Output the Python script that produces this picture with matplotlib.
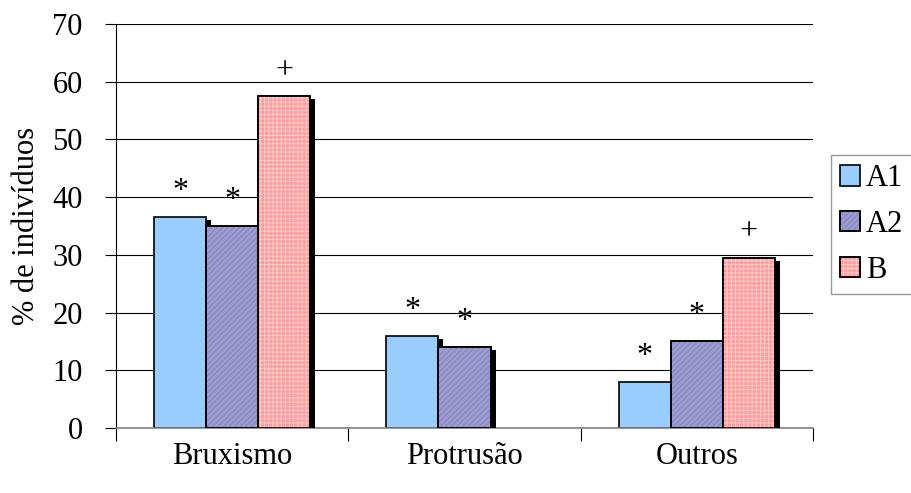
import matplotlib
matplotlib.use('Agg')
import matplotlib.pyplot as plt
import matplotlib.transforms as mtransforms
from matplotlib.patches import Patch
import numpy as np

plt.rcParams['font.family'] = ['Liberation Serif', 'DejaVu Serif']
plt.rcParams['hatch.linewidth'] = 0.6

# dados
categorias = ['Bruxismo', 'Protrusão', 'Outros']
grupos = ['A1', 'A2', 'B']
a1 = [36.5, 16, 8]
a2 = [35, 14, 15]
b = [57.5, 0, 29.5]
marcas = [['*', '*', '+'], ['*', '*', ''], ['*', '*', '+']]

cores = ['#99CCFF', '#9C9CD2', '#FF9C9C']
hachuras = [None, '//////', '++++']
cor_hachura = [None, '#8080B8', '#FFD0D0']
fs = 22

fig = plt.figure(figsize=(9.11, 4.93), dpi=100)
ax = fig.add_axes([116/911, 1-428/493, (813-116)/911, (428-24)/493])

x = np.arange(len(categorias))
larg = 0.224
series = [a1, a2, b]

# sombra preta deslocada para a direita/baixo
sombra = mtransforms.offset_copy(ax.transData, fig=fig, x=5, y=-3, units='dots')
for i, vals in enumerate(series):
    pos = x + (i - 1) * larg
    for j, v in enumerate(vals):
        if v > 0:
            ax.bar(pos[j], v, larg, color='black', linewidth=0,
                   transform=sombra, zorder=2 + i)

for i, vals in enumerate(series):
    pos = x + (i - 1) * larg
    h = np.array(vals, dtype=float)
    mask = h > 0
    ax.bar(pos[mask], h[mask], larg, color=cores[i], edgecolor='black',
           linewidth=1.2, zorder=2.5 + i)
    if hachuras[i]:
        ax.bar(pos[mask], h[mask], larg, facecolor='none', edgecolor=cor_hachura[i],
               hatch=hachuras[i], linewidth=0, zorder=2.6 + i)
        ax.bar(pos[mask], h[mask], larg, facecolor='none', edgecolor='black',
               linewidth=1.2, zorder=2.7 + i)
    for j, v in enumerate(vals):
        m = marcas[j][i]
        if m:
            ax.annotate(m, (pos[j], v), xytext=(0, 13), textcoords='offset points',
                        ha='center', va='baseline', fontsize=fs + 1, zorder=10)

ax.set_xlim(-0.5, 2.5)
ax.set_ylim(0, 70)
ax.set_yticks(np.arange(0, 71, 10))
ax.yaxis.grid(True, color='black', linewidth=0.8)
ax.set_axisbelow(True)

ax.set_xticks(x)
ax.set_xticklabels(categorias)
ax.set_xticks(np.arange(-0.5, 3, 1), minor=True)
ax.tick_params(axis='x', which='major', length=0, pad=10, labelsize=fs)
ax.tick_params(axis='x', which='minor', length=9, width=0.8, color='black')
ax.tick_params(axis='y', length=8, width=0.8, pad=16, labelsize=fs)

for s in ['top', 'right']:
    ax.spines[s].set_visible(False)
ax.spines['bottom'].set_color('#808080')
ax.spines['bottom'].set_linewidth(1.2)
ax.spines['left'].set_linewidth(0.8)

ax.set_ylabel('% de indivíduos', fontsize=fs, labelpad=8)

# legenda com os mesmos preenchimentos
alcas = []
for i in range(3):
    base = Patch(facecolor=cores[i], edgecolor='black', linewidth=1.2)
    if hachuras[i]:
        trama = Patch(facecolor='none', edgecolor=cor_hachura[i], hatch=hachuras[i], linewidth=0)
        borda = Patch(facecolor='none', edgecolor='black', linewidth=1.2)
        alcas.append((base, trama, borda))
    else:
        alcas.append(base)
leg = fig.legend(handles=alcas, labels=grupos, loc='upper left',
                 bbox_to_anchor=(831/911, 1-155/493),
                 fontsize=fs, frameon=True, fancybox=False, edgecolor='#808080',
                 handlelength=0.65, handleheight=0.65, handletextpad=0.2,
                 labelspacing=0.55, borderpad=0.3, borderaxespad=0)
leg.get_frame().set_linewidth(1.0)

fig.savefig('out.png', dpi=100)
